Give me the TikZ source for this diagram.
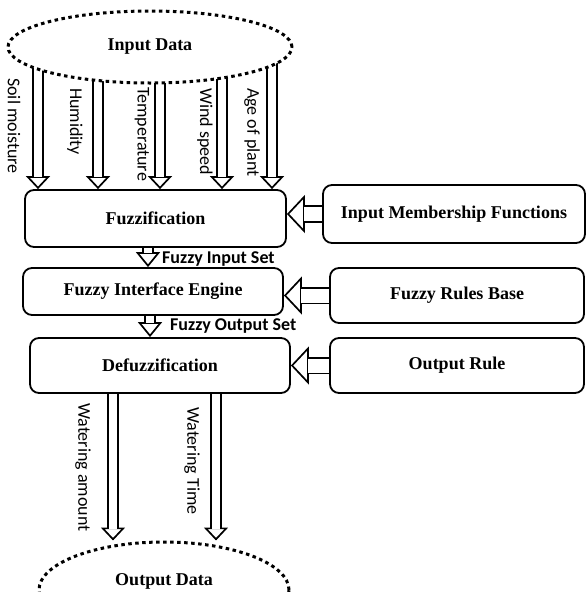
\documentclass[tikz,border=0pt]{standalone}
\usepackage{fontspec}
\setmainfont{Liberation Serif}
\newfontfamily\labelfont{Carlito}
\usetikzlibrary{shapes.geometric,arrows.meta,backgrounds,calc}

\tikzset{
	block/.style={draw, fill=white, line width=1.8pt, rounded corners=9pt, inner sep=0pt, font=\fontsize{18}{20}\selectfont\bfseries},
	dataoval/.style={draw, ellipse, fill=white, line width=3pt, dash pattern=on 3.5pt off 3.5pt, inner sep=0pt, font=\fontsize{18}{20}\selectfont\bfseries},
	pipe/.style={line width=1.7pt, double=white, double distance=#1},
	tip/.style 2 args={line width=1.7pt, -{Triangle[width=#1, length=#2, fill=white]}},
	vlabel/.style={font=\fontsize{18}{20}\selectfont\labelfont, rotate=-90, anchor=west, inner sep=0pt},
	hlabel/.style={font=\fontsize{18}{20}\selectfont\labelfont\bfseries, anchor=west, inner sep=0pt}
}

\begin{document}
\begin{tikzpicture}[x=1pt, y=-1pt]
	\useasboundingbox (0,0) rectangle (587,592);
	\node[dataoval, minimum width=284pt, minimum height=72pt] (in) at (150,47) {Input Data};
	\node[block, minimum width=261pt, minimum height=57pt] (fuzz) at (155.5,218.5) {Fuzzification};
	\node[block, minimum width=262pt, minimum height=58pt] (imf) at (454,214) {Input Membership Functions};
	\node[block, minimum width=260pt, minimum height=47pt] (fie) at (153,291.5) {Fuzzy Interface Engine};
	\node[block, minimum width=254pt, minimum height=55pt] (frb) at (457,295.5) {Fuzzy Rules Base};
	\node[block, minimum width=260pt, minimum height=55pt] (def) at (160,365.5) {Defuzzification};
	\node[block, minimum width=254pt, minimum height=55pt] (orl) at (457,365.5) {Output Rule};
	\node[dataoval, minimum width=250pt, minimum height=96pt, text depth=20pt] (out) at (164,590) {Output Data};
	% arrow columns
	\coordinate (c1) at (38,0);
	\coordinate (c2) at (98,0);
	\coordinate (c3) at (160,0);
	\coordinate (c4) at (222,0);
	\coordinate (c5) at (272,0);
	\coordinate (f1) at (148,0);
	\coordinate (f2) at (150,0);
	\coordinate (o1) at (113,0);
	\coordinate (o2) at (216,0);
	% labels
	\node[vlabel] (soil) at (14,78) {Soil moisture};
	\node[vlabel] (hum) at (75,88) {Humidity};
	\node[vlabel] (temp) at (142,87) {Temperature};
	\node[vlabel] (wind) at (205,88) {Wind speed};
	\node[vlabel] (age) at (252,88) {Age of plant};
	\node[hlabel] (fis) at (162,259) {Fuzzy Input Set};
	\node[hlabel] (fos) at (170,326) {Fuzzy Output Set};
	\node[vlabel] (wamt) at (83,403) {Watering amount};
	\node[vlabel] (wtime) at (192,407) {Watering Time};
	\begin{scope}[on background layer]
		\draw[tip={24pt}{13pt}] ($(fuzz.north -| c1)+(0,-1)$) -- (fuzz.north -| c1);
		\draw[pipe=8pt, shorten >=12pt] (in.center -| c1) -- (fuzz.north -| c1);
		\draw[tip={24pt}{13pt}] ($(fuzz.north -| c2)+(0,-1)$) -- (fuzz.north -| c2);
		\draw[pipe=8pt, shorten >=12pt] (in.center -| c2) -- (fuzz.north -| c2);
		\draw[tip={24pt}{13pt}] ($(fuzz.north -| c3)+(0,-1)$) -- (fuzz.north -| c3);
		\draw[pipe=8pt, shorten >=12pt] (in.center -| c3) -- (fuzz.north -| c3);
		\draw[tip={24pt}{13pt}] ($(fuzz.north -| c4)+(0,-1)$) -- (fuzz.north -| c4);
		\draw[pipe=8pt, shorten >=12pt] (in.center -| c4) -- (fuzz.north -| c4);
		\draw[tip={24pt}{13pt}] ($(fuzz.north -| c5)+(0,-1)$) -- (fuzz.north -| c5);
		\draw[pipe=8pt, shorten >=12pt] (in.center -| c5) -- (fuzz.north -| c5);
		\draw[tip={38pt}{18pt}] ($(imf.west -| fuzz.east)+(1,0)$) -- (imf.west -| fuzz.east);
		\draw[pipe=14pt, shorten >=17pt] (imf.west) -- (imf.west -| fuzz.east);
		\draw[tip={38pt}{18pt}] ($(frb.west -| fie.east)+(1,0)$) -- (frb.west -| fie.east);
		\draw[pipe=14pt, shorten >=17pt] (frb.west) -- (frb.west -| fie.east);
		\draw[tip={38pt}{18pt}] ($(orl.west -| def.east)+(1,0)$) -- (orl.west -| def.east);
		\draw[pipe=14pt, shorten >=17pt] (orl.west) -- (orl.west -| def.east);
		\draw[tip={24pt}{15pt}] ($(fie.north -| f1)+(0,-1)$) -- (fie.north -| f1);
		\draw[pipe=8pt, shorten >=14pt] (fuzz.south -| f1) -- (fie.north -| f1);
		\draw[tip={24pt}{15pt}] ($(def.north -| f2)+(0,-1)$) -- (def.north -| f2);
		\draw[pipe=8pt, shorten >=14pt] (fie.south -| f2) -- (def.north -| f2);
		\draw[tip={24pt}{13pt}] ($(out.north -| o1)+(0,-1)$) -- (out.north -| o1);
		\draw[pipe=8pt, shorten >=12pt] (def.south -| o1) -- (out.north -| o1);
		\draw[tip={24pt}{13pt}] ($(out.north -| o2)+(0,-1)$) -- (out.north -| o2);
		\draw[pipe=8pt, shorten >=12pt] (def.south -| o2) -- (out.north -| o2);
	\end{scope}
\end{tikzpicture}
\end{document}
